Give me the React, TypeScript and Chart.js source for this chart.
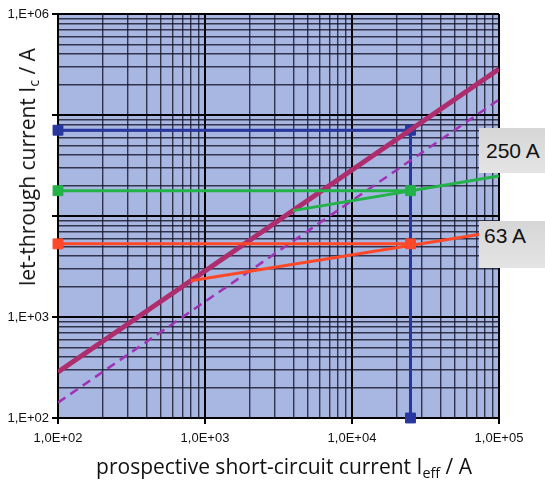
import React, { useEffect, useRef } from "react";
import { Chart, registerables } from "chart.js";

Chart.register(...registerables);

// Axis ranges (A)
const xMin = 100;
const xMax = 100000;
const yMin = 100;
const yMax = 1000000;

// Decade tick labels
const xTickLabels: Record<number, string> = { 2: "1,0E+02", 3: "1,0E+03", 4: "1,0E+04", 5: "1,0E+05" };
const yTickLabels: Record<number, string> = { 2: "1,E+02", 3: "1,E+03", 6: "1,E+06" };

// Peak (unlimited) let-through current: 2.83 x Ieff, and sqrt(2) x Ieff (dashed)
const peakX = [100, 100000];
const peakY = [285, 285000];
const rmsX = [100, 100000];
const rmsY = [142, 142000];

// Operating point construction at 25 kA
const blueX = [100, 25000, 25000];
const blueY = [70700, 70700, 100];
const green250X = [100, 25000];
const green250Y = [17800, 17800];
const green250CurveX = [3970, 100000];
const green250CurveY = [11300, 24900];
const red63X = [100, 25000];
const red63Y = [5300, 5300];
const red63CurveX = [800, 100000];
const red63CurveY = [2280, 7050];

const pts = (xs: number[], ys: number[]) => xs.map((x, i) => ({ x, y: ys[i] }));

const isDecade = (v: number | undefined) => {
  if (v === undefined || v <= 0) return false;
  const l = Math.log10(v);
  return Math.abs(l - Math.round(l)) < 1e-9;
};

const logTicks = (min: number, max: number) => {
  const out: { value: number }[] = [];
  const e0 = Math.round(Math.log10(min));
  const e1 = Math.round(Math.log10(max));
  for (let e = e0; e < e1; e++) {
    for (let s = 1; s <= 9; s++) out.push({ value: s * Math.pow(10, e) });
  }
  out.push({ value: Math.pow(10, e1) });
  return out;
};

const bgPlugin = {
  id: "plotBg",
  beforeDraw(chart: any) {
    const { ctx, chartArea } = chart;
    ctx.save();
    ctx.fillStyle = "rgb(168,182,226)";
    ctx.fillRect(chartArea.left, chartArea.top, chartArea.right - chartArea.left, chartArea.bottom - chartArea.top);
    ctx.restore();
  },
};

const gridOpts = {
  color: (c: any) => (isDecade(c.tick?.value) ? "#000" : "rgba(20,20,40,0.8)"),
  lineWidth: (c: any) => (isDecade(c.tick?.value) ? 2 : 1.4),
  tickColor: (c: any) => (isDecade(c.tick?.value) ? "#000" : "rgba(0,0,0,0)"),
  tickWidth: 2,
  tickLength: 6,
  drawTicks: true,
};

export default function App() {
  const ref = useRef<HTMLCanvasElement | null>(null);

  useEffect(() => {
    if (!ref.current) return;
    const chart = new Chart(ref.current, {
      type: "scatter",
      data: {
        datasets: [
          {
            data: pts(green250CurveX, green250CurveY),
            showLine: true,
            borderColor: "rgb(34,178,72)",
            borderWidth: 3,
            pointRadius: 0,
          },
          {
            data: pts(red63CurveX, red63CurveY),
            showLine: true,
            borderColor: "rgb(255,72,40)",
            borderWidth: 3,
            pointRadius: 0,
          },
          {
            data: pts(green250X, green250Y),
            showLine: true,
            borderColor: "rgb(34,178,72)",
            backgroundColor: "rgb(34,178,72)",
            borderWidth: 3,
            pointStyle: "rect",
            pointRadius: 7,
            pointBorderWidth: 1,
            clip: false,
          },
          {
            data: pts(red63X, red63Y),
            showLine: true,
            borderColor: "rgb(255,72,40)",
            backgroundColor: "rgb(255,72,40)",
            borderWidth: 3,
            pointStyle: "rect",
            pointRadius: 7,
            pointBorderWidth: 1,
            clip: false,
          },
          {
            data: pts(rmsX, rmsY),
            showLine: true,
            borderColor: "rgb(160,50,180)",
            borderWidth: 2.5,
            borderDash: [9, 6],
            pointRadius: 0,
          },
          {
            data: pts(peakX, peakY),
            showLine: true,
            borderColor: "rgb(174,45,108)",
            borderWidth: 5,
            pointRadius: 0,
          },
          {
            data: pts(blueX, blueY),
            showLine: true,
            borderColor: "rgb(40,55,160)",
            backgroundColor: "rgb(40,55,160)",
            borderWidth: 3,
            pointStyle: "rect",
            pointRadius: 7,
            pointBorderWidth: 1,
            clip: false,
          },
        ],
      },
      options: {
        animation: false,
        responsive: false,
        events: [],
        layout: { padding: { left: 0, top: 14, right: 46, bottom: 0 } },
        plugins: { legend: { display: false }, tooltip: { enabled: false } },
        scales: {
          x: {
            type: "logarithmic",
            min: xMin,
            max: xMax,
            afterBuildTicks: (s: any) => {
              s.ticks = logTicks(xMin, xMax);
            },
            afterFit: (s: any) => {
              s.height = 68;
            },
            grid: gridOpts as any,
            border: { display: true, color: "#000", width: 2 },
            ticks: {
              autoSkip: false,
              maxRotation: 0,
              padding: 7,
              color: "#111",
              font: { family: "'Liberation Sans', Arial, sans-serif", size: 13 },
              callback: (v: any) => {
                const n = Number(v);
                return isDecade(n) ? xTickLabels[Math.round(Math.log10(n))] ?? "" : "";
              },
            },
          },
          y: {
            type: "logarithmic",
            min: yMin,
            max: yMax,
            afterBuildTicks: (s: any) => {
              s.ticks = logTicks(yMin, yMax);
            },
            afterFit: (s: any) => {
              s.width = 58;
            },
            grid: gridOpts as any,
            border: { display: true, color: "#000", width: 2 },
            ticks: {
              autoSkip: false,
              padding: 3,
              color: "#111",
              font: { family: "'Liberation Sans', Arial, sans-serif", size: 13 },
              callback: (v: any) => {
                const n = Number(v);
                return isDecade(n) ? yTickLabels[Math.round(Math.log10(n))] ?? "" : "";
              },
            },
          },
        },
      },
      plugins: [bgPlugin],
    } as any);
    return () => chart.destroy();
  }, []);

  const titleFont = "21px 'Open Sans', 'DejaVu Sans', sans-serif";
  const subStyle: React.CSSProperties = { fontSize: "0.68em", verticalAlign: "-0.3em", lineHeight: 0 };
  const boxFont = "21px 'Liberation Sans', Arial, sans-serif";

  return (
    <div style={{ position: "fixed", left: 0, top: 0, width: 545, height: 486, background: "#fff", overflow: "hidden" }}>
      <canvas ref={ref} width={545} height={486} style={{ display: "block", width: 545, height: 486 }} />
      <div
        style={{
          position: "absolute",
          left: 27,
          top: 167,
          transform: "translate(-50%, -50%) rotate(-90deg)",
          whiteSpace: "nowrap",
          font: titleFont,
          color: "#111",
          background: "#fff",
          padding: "0 4px",
          lineHeight: "24px",
        }}
      >
        let-through current I<span style={subStyle}>c</span> / A
      </div>
      <div
        style={{
          position: "absolute",
          left: 284,
          top: 466,
          transform: "translate(-50%, -50%)",
          whiteSpace: "nowrap",
          font: titleFont,
          color: "#111",
          lineHeight: "24px",
        }}
      >
        prospective short-circuit current I<span style={subStyle}>eff</span> / A
      </div>
      <div
        style={{
          position: "absolute",
          left: 479,
          top: 128,
          width: 66,
          height: 45,
          background: "linear-gradient(#d6d6d6, #e4e4e4)",
          font: boxFont,
          color: "#111",
          boxSizing: "border-box",
          paddingLeft: 7,
          lineHeight: "45px",
          whiteSpace: "nowrap",
        }}
      >
        250 A
      </div>
      <div
        style={{
          position: "absolute",
          left: 479,
          top: 221,
          width: 66,
          height: 47,
          background: "linear-gradient(#d6d6d6, #e4e4e4)",
          font: boxFont,
          color: "#111",
          boxSizing: "border-box",
          paddingLeft: 5,
          paddingTop: 2,
          lineHeight: "26px",
          whiteSpace: "nowrap",
        }}
      >
        63 A
      </div>
    </div>
  );
}
